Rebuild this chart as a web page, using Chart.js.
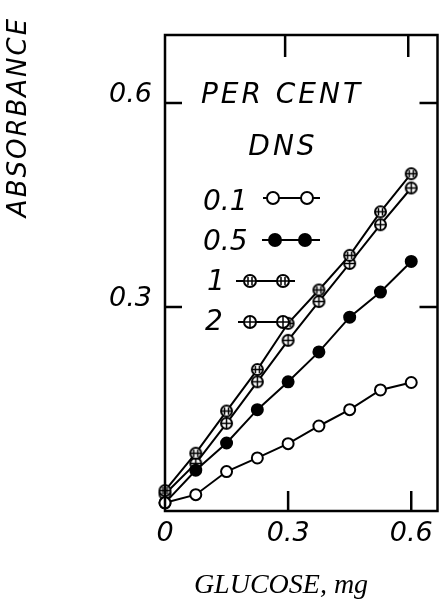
<!DOCTYPE html>
<html>
<head>
<meta charset="utf-8">
<script src="https://cdn.jsdelivr.net/npm/chart.js@4.4.1/dist/chart.umd.min.js"></script>
<style>
  html, body { margin: 0; padding: 0; background: #fff; }
  #wrap { width: 445px; height: 603px; }
</style>
</head>
<body>
<div id="wrap"><canvas id="c" width="445" height="603"></canvas></div>
<script>
// Glucose (mg) on the x axis, absorbance for each DNS concentration (per cent)
const glucose = [0, 0.075, 0.15, 0.225, 0.3, 0.375, 0.45, 0.525, 0.6];
const dns01 = [0.012, 0.024, 0.058, 0.078, 0.099, 0.125, 0.149, 0.178, 0.189];
const dns05 = [0.012, 0.060, 0.100, 0.149, 0.190, 0.234, 0.285, 0.322, 0.367];
const dns1  = [0.030, 0.085, 0.147, 0.208, 0.276, 0.325, 0.376, 0.440, 0.496];
const dns2  = [0.025, 0.070, 0.129, 0.190, 0.251, 0.308, 0.364, 0.421, 0.475];
const seriesLabels = ['0.1', '0.5', '1', '2'];
const xTicks = [0, 0.3, 0.6];
const yTicks = [0.3, 0.6];
const xTickLabels = ['0', '0.3', '0.6'];
const yTickLabels = ['0.3', '0.6'];

const LETTER = 'italic 27px "DejaVu Sans"';

// marker painters shared by the data points and the legend samples
function circleBase(ctx, cx, cy, r, fill) {
  ctx.beginPath();
  ctx.arc(cx, cy, r, 0, Math.PI * 2);
  ctx.fillStyle = fill;
  ctx.fill();
  ctx.lineWidth = 2;
  ctx.strokeStyle = '#000';
  ctx.stroke();
}
function paintMarker(ctx, kind, cx, cy, r) {
  if (kind === 0) { circleBase(ctx, cx, cy, r, '#fff'); return; }
  if (kind === 1) { circleBase(ctx, cx, cy, r, '#000'); return; }
  circleBase(ctx, cx, cy, r, '#fff');
  ctx.lineWidth = 1.5;
  ctx.beginPath();
  if (kind === 2) {
    // bar-through circle
    ctx.moveTo(cx - r + 1, cy); ctx.lineTo(cx + r - 1, cy);
    ctx.moveTo(cx - 2, cy - r + 2); ctx.lineTo(cx - 2, cy + r - 2);
    ctx.moveTo(cx + 2, cy - r + 2); ctx.lineTo(cx + 2, cy + r - 2);
  } else {
    // crossed circle
    ctx.moveTo(cx - r + 1, cy); ctx.lineTo(cx + r - 1, cy);
    ctx.moveTo(cx, cy - r + 1); ctx.lineTo(cx, cy + r - 1);
  }
  ctx.stroke();
}
function markerImage(kind, r) {
  const s = Math.ceil(r * 2 + 4);
  const cv = document.createElement('canvas');
  cv.width = s; cv.height = s;
  paintMarker(cv.getContext('2d'), kind, s / 2, s / 2, r);
  return cv;
}

const R = 5.5;
const styles = [
  { pointStyle: 'circle', pointRadius: R, pointBackgroundColor: '#fff' },
  { pointStyle: 'circle', pointRadius: R, pointBackgroundColor: '#000' },
  { pointStyle: markerImage(2, R), pointRadius: R, pointBackgroundColor: '#fff' },
  { pointStyle: markerImage(3, R), pointRadius: R, pointBackgroundColor: '#fff' }
];

const series = [dns01, dns05, dns1, dns2];
const datasets = series.map((vals, i) => Object.assign({
  label: seriesLabels[i],
  data: glucose.map((g, k) => ({ x: g, y: vals[k] })),
  borderColor: '#000',
  borderWidth: 2,
  pointBorderColor: '#000',
  pointBorderWidth: 2,
  tension: 0,
  clip: false
}, styles[i]));

function seg(ctx, x1, y1, x2, y2) {
  ctx.beginPath(); ctx.moveTo(x1, y1); ctx.lineTo(x2, y2); ctx.stroke();
}

const frame = {
  id: 'frame',
  afterDraw(chart) {
    const { ctx, chartArea: a, scales: { x, y } } = chart;
    ctx.save();
    ctx.strokeStyle = '#000';
    ctx.lineWidth = 2.5;
    ctx.strokeRect(a.left, a.top, a.right - a.left, a.bottom - a.top);

    // inward tick marks on all four sides
    yTicks.forEach(v => {
      const py = y.getPixelForValue(v);
      seg(ctx, a.left, py, a.left + 17, py);
      seg(ctx, a.right - 18, py, a.right, py);
    });
    xTicks.filter(v => v > 0).forEach(v => {
      const px = x.getPixelForValue(v);
      seg(ctx, px, a.bottom, px, a.bottom - 20);
      seg(ctx, px - 3, a.top, px - 3, a.top + 22);
    });

    // legend block inside the plot
    ctx.fillStyle = '#000';
    ctx.textBaseline = 'middle';
    ctx.font = 'italic 28px "DejaVu Sans"';
    ctx.letterSpacing = '3px';
    ctx.textAlign = 'center';
    ctx.fillText('PER CENT', a.left + 117, 96);
    ctx.fillText('DNS', a.left + 118, 148);
    ctx.letterSpacing = '0px';
    ctx.textAlign = 'left';
    const rows = [
      { lx: 203, ly: 203, sy: 198, l0: 263, l1: 320, m: [273, 307] },
      { lx: 203, ly: 243, sy: 240, l0: 262, l1: 320, m: [275, 305] },
      { lx: 207, ly: 283, sy: 281, l0: 236, l1: 295, m: [250, 283] },
      { lx: 205, ly: 323, sy: 322, l0: 238, l1: 290, m: [250, 283] }
    ];
    rows.forEach((r, i) => {
      ctx.fillStyle = '#000';
      ctx.fillText(seriesLabels[i], r.lx, r.ly);
      ctx.lineWidth = 2;
      seg(ctx, r.l0, r.sy, r.l1, r.sy);
      r.m.forEach(mx => paintMarker(ctx, i, mx, r.sy, 6));
    });

    // axis titles
    ctx.fillStyle = '#000';
    ctx.save();
    ctx.translate(19, 117);
    ctx.rotate(-Math.PI / 2);
    ctx.font = 'italic 26px "DejaVu Sans"';
    ctx.letterSpacing = '2px';
    ctx.textAlign = 'center';
    ctx.textBaseline = 'middle';
    ctx.fillText('ABSORBANCE', 0, 0);
    ctx.restore();

    ctx.font = 'italic 28px "Liberation Serif"';
    ctx.letterSpacing = '0px';
    ctx.textAlign = 'center';
    ctx.textBaseline = 'alphabetic';
    ctx.fillText('GLUCOSE, mg', 281, 593);
    ctx.restore();
  }
};

new Chart(document.getElementById('c'), {
  type: 'line',
  data: { datasets },
  plugins: [frame],
  options: {
    responsive: false,
    animation: false,
    devicePixelRatio: 1,
    layout: { padding: { left: 0, right: 3, top: 35, bottom: 0 } },
    plugins: { legend: { display: false }, tooltip: { enabled: false } },
    elements: { line: { borderCapStyle: 'round' } },
    scales: {
      x: {
        type: 'linear',
        min: 0,
        max: 0.664,
        afterBuildTicks: s => { s.ticks = xTicks.map(v => ({ value: v })); },
        afterFit: s => { s.height = 92; },
        grid: { display: false, drawTicks: false },
        border: { display: false },
        ticks: {
          autoSkip: false,
          maxRotation: 0,
          padding: 7,
          color: '#000',
          font: { family: 'DejaVu Sans', style: 'italic', size: 27 },
          callback: (v) => xTickLabels[xTicks.indexOf(v)]
        }
      },
      y: {
        type: 'linear',
        min: 0,
        max: 0.70,
        afterBuildTicks: s => { s.ticks = yTicks.map(v => ({ value: v })); },
        afterFit: s => { s.width = 165; },
        grid: { display: false, drawTicks: false },
        border: { display: false },
        ticks: {
          autoSkip: false,
          padding: 13,
          labelOffset: -8,
          color: '#000',
          font: { family: 'DejaVu Sans', style: 'italic', size: 27 },
          callback: (v) => yTickLabels[yTicks.indexOf(v)]
        }
      }
    }
  }
});
</script>
</body>
</html>
